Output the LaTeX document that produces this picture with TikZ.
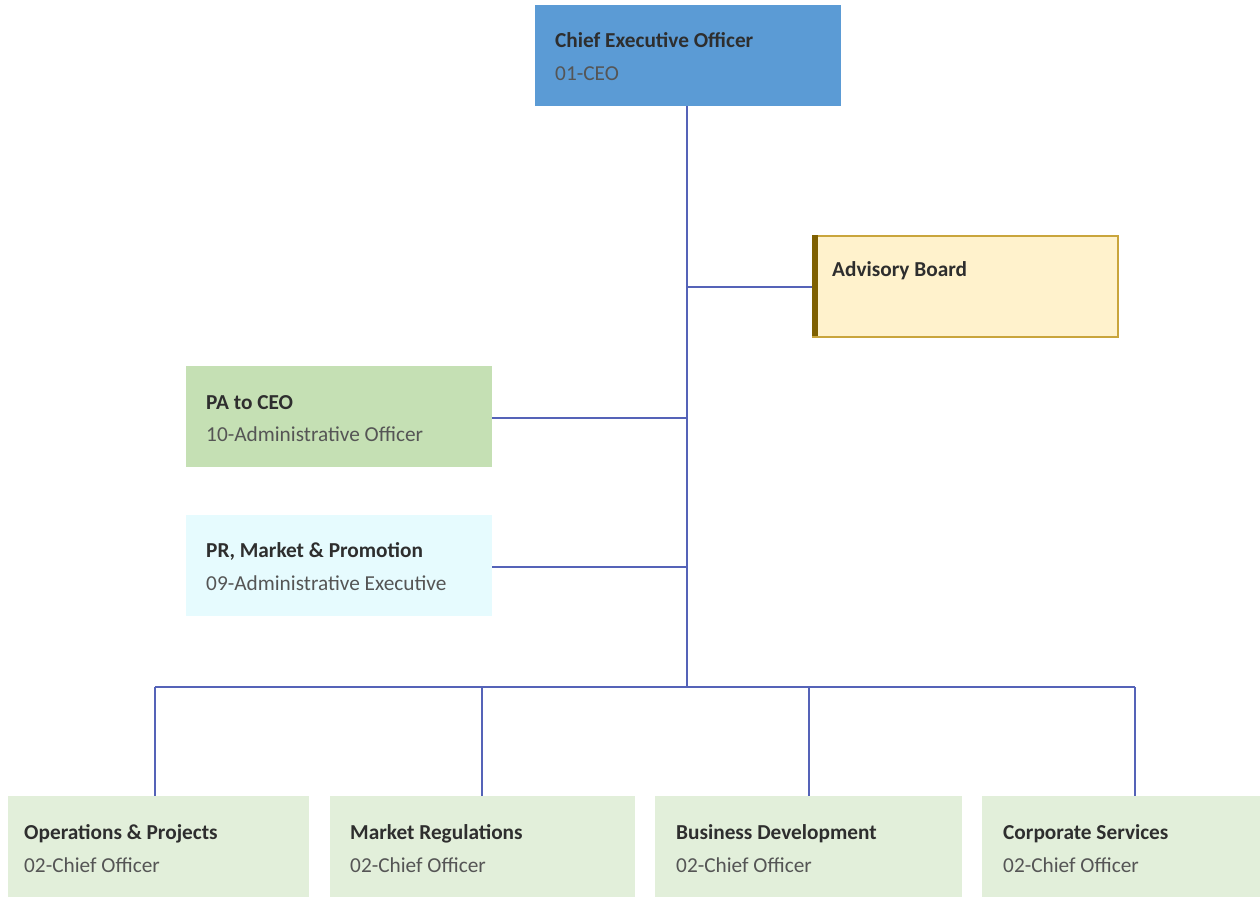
\documentclass[tikz,border=0pt]{standalone}
\usepackage{fontspec}
\setmainfont{Carlito}
\definecolor{linec}{HTML}{5563B8}
\definecolor{ceofill}{HTML}{5B9BD5}
\definecolor{advfill}{HTML}{FFF2CC}
\definecolor{advdraw}{HTML}{C9A53C}
\definecolor{advbar}{HTML}{7F6000}
\definecolor{pafill}{HTML}{C5E0B4}
\definecolor{prfill}{HTML}{E6FBFE}
\definecolor{botfill}{HTML}{E2EFDA}
\definecolor{titlec}{HTML}{2E2E2E}
\definecolor{subc}{HTML}{555555}
\tikzset{
  box/.style={rectangle, minimum width=306pt, minimum height=101pt, inner sep=0pt, anchor=north west},
  conn/.style={draw=linec, line width=1.6pt},
  ttl/.style={anchor=base west, font=\fontsize{21.3}{24}\selectfont\bfseries, text=titlec, inner sep=0pt},
  sub/.style={anchor=base west, font=\fontsize{21.3}{24}\selectfont, text=subc, inner sep=0pt}
}
\begin{document}
\begin{tikzpicture}[x=1pt,y=-1pt]
\useasboundingbox (0,0) rectangle (1260,899);
% boxes
\node[box, fill=ceofill, minimum width=306pt] (ceo) at (535,5) {};
\node[box, fill=advfill, draw=advdraw, line width=1.5pt, minimum width=305pt] (adv) at (812,235) {};
\fill[advbar] (812,235) rectangle (818,336);
\node[box, fill=pafill] (pa) at (186,366) {};
\node[box, fill=prfill] (pr) at (186,515) {};
\node[box, fill=botfill, minimum width=301pt] (b1) at (8,796) {};
\node[box, fill=botfill, minimum width=305pt] (b2) at (330,796) {};
\node[box, fill=botfill, minimum width=307pt] (b3) at (655,796) {};
\node[box, fill=botfill, minimum width=280pt] (b4) at (982,796) {};
% texts
\node[ttl] (t1) at (555,48) {Chief Executive Officer};
\node[sub] (s1) at (555,80) {01-CEO};
\node[ttl] (t2) at (832,276) {Advisory Board};
\node[ttl] (t3) at (206,409) {PA to CEO};
\node[sub] (s3) at (206,441) {10-Administrative Officer};
\node[ttl] (t4) at (206,557) {PR, Market \& Promotion};
\node[sub] (s4) at (206,590) {09-Administrative Executive};
\node[ttl] (t5) at (24,839) {Operations \& Projects};
\node[sub] (s5) at (24,872) {02-Chief Officer};
\node[ttl] (t6) at (350,839) {Market Regulations};
\node[sub] (s6) at (350,872) {02-Chief Officer};
\node[ttl] (t7) at (676,839) {Business Development};
\node[sub] (s7) at (676,872) {02-Chief Officer};
\node[ttl] (t8) at (1003,839) {Corporate Services};
\node[sub] (s8) at (1003,872) {02-Chief Officer};
% connectors
\coordinate (bus) at (687,687);
\coordinate (ja) at (687,287);
\coordinate (jp) at (687,418);
\coordinate (jr) at (687,567);
\coordinate (bl) at (155,687);
\coordinate (br) at (1135,687);
\draw[conn] (687,106) -- (bus);
\draw[conn] (ja) -- (adv.west |- ja);
\draw[conn] (jp) -- (pa.east |- jp);
\draw[conn] (jr) -- (pr.east |- jr);
\draw[conn] (bl) -- (br);
\draw[conn] (bl) -- (155,796);
\draw[conn] (482,687) -- (482,796);
\draw[conn] (809,687) -- (809,796);
\draw[conn] (br) -- (1135,796);
\end{tikzpicture}
\end{document}
